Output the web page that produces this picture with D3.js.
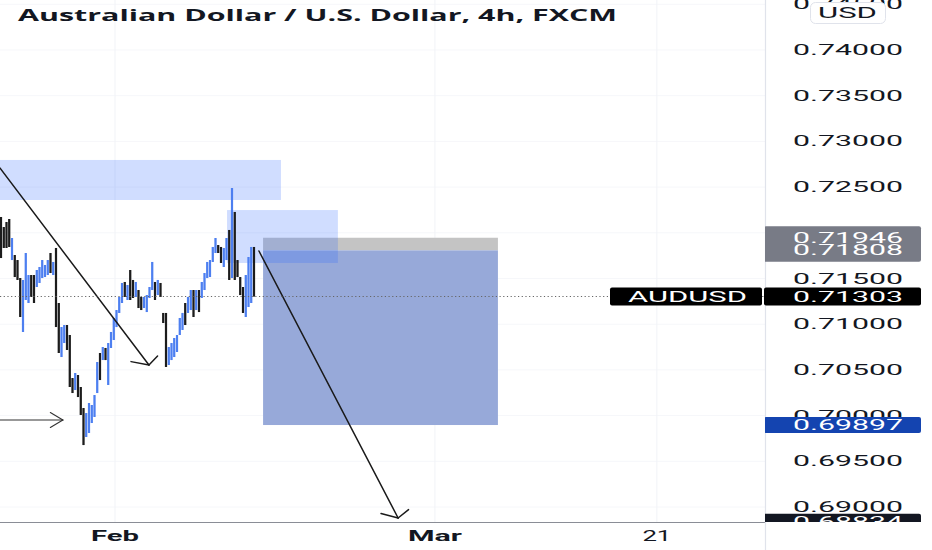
<!DOCTYPE html>
<html><head><meta charset="utf-8">
<script src="https://cdn.jsdelivr.net/npm/d3@7"></script>
<style>html,body{margin:0;padding:0;background:#fff;overflow:hidden}</style>
</head><body>
<svg id="c" width="932" height="550"></svg>
<script>
const title = "Australian Dollar / U.S. Dollar, 4h, FXCM";
// [open, high, low, close]
const candles = [
[0.72173,0.72173,0.71724,0.71724],[0.72063,0.72063,0.71834,0.71834],[0.72118,0.72118,0.71834,0.71834],
[0.72151,0.72151,0.71845,0.71845],[0.71702,0.71943,0.71702,0.71943],[0.71757,0.71757,0.71516,0.71516],
[0.71702,0.71702,0.71484,0.71484],[0.71505,0.71505,0.71079,0.71079],[0.70915,0.71484,0.70915,0.71484],
[0.71265,0.71779,0.71265,0.71779],[0.71232,0.71538,0.71232,0.71538],[0.71538,0.71538,0.71298,0.71298],
[0.71538,0.71538,0.71232,0.71232],[0.71407,0.71593,0.71407,0.71593],[0.71451,0.71626,0.71451,0.71626],
[0.71505,0.71702,0.71505,0.71702],[0.71516,0.71648,0.71516,0.71648],[0.71538,0.71702,0.71538,0.71702],
[0.71779,0.71779,0.71560,0.71560],[0.71538,0.71681,0.71538,0.71681],[0.71834,0.71834,0.70969,0.70969],
[0.71232,0.71232,0.70685,0.70685],[0.70641,0.70969,0.70641,0.70969],[0.70794,0.70991,0.70794,0.70991],
[0.70991,0.70991,0.70718,0.70718],[0.70882,0.70882,0.70313,0.70313],[0.70411,0.70411,0.70247,0.70247],
[0.70280,0.70466,0.70280,0.70466],[0.70444,0.70444,0.70203,0.70203],[0.70313,0.70313,0.70007,0.70007],
[0.70083,0.70083,0.69678,0.69678],[0.69766,0.70028,0.69766,0.70028],[0.69810,0.70138,0.69810,0.70138],
[0.69919,0.70116,0.69919,0.70116],[0.69985,0.70225,0.69985,0.70225],[0.70247,0.70586,0.70247,0.70586],
[0.70685,0.70685,0.70389,0.70389],[0.70608,0.70750,0.70608,0.70750],[0.70740,0.70740,0.70608,0.70608],
[0.70335,0.70794,0.70335,0.70794],[0.70740,0.70915,0.70740,0.70915],[0.70827,0.71068,0.70827,0.71068],
[0.70969,0.71155,0.70969,0.71155],[0.71123,0.71298,0.71123,0.71298],[0.71232,0.71451,0.71232,0.71451],
[0.71462,0.71462,0.71298,0.71298],[0.71265,0.71429,0.71265,0.71429],[0.71593,0.71593,0.71265,0.71265],
[0.71484,0.71484,0.71287,0.71287],[0.71298,0.71462,0.71298,0.71462],[0.71374,0.71374,0.71177,0.71177],
[0.71298,0.71298,0.71155,0.71155],[0.71177,0.71298,0.71177,0.71298],[0.71133,0.71319,0.71133,0.71319],
[0.71287,0.71407,0.71287,0.71407],[0.71374,0.71681,0.71374,0.71681],[0.71462,0.71462,0.71265,0.71265],
[0.71319,0.71484,0.71319,0.71484],[0.71451,0.71451,0.71298,0.71298],[0.71123,0.71123,0.71013,0.71013],
[0.71123,0.71123,0.70532,0.70532],[0.70554,0.70750,0.70554,0.70750],[0.70608,0.70794,0.70608,0.70794],
[0.70641,0.70849,0.70641,0.70849],[0.70696,0.70882,0.70696,0.70882],[0.70882,0.71068,0.70882,0.71068],
[0.70937,0.71123,0.70937,0.71123],[0.71232,0.71232,0.70991,0.70991],[0.71123,0.71298,0.71123,0.71298],
[0.71155,0.71374,0.71155,0.71374],[0.71374,0.71374,0.71079,0.71079],[0.71155,0.71374,0.71155,0.71374],
[0.71374,0.71374,0.71133,0.71133],[0.71287,0.71462,0.71287,0.71462],[0.71374,0.71560,0.71374,0.71560],
[0.71505,0.71681,0.71505,0.71681],[0.71516,0.71702,0.71516,0.71702],[0.71681,0.71845,0.71681,0.71845],
[0.71779,0.71943,0.71779,0.71943],[0.71866,0.71866,0.71779,0.71779],[0.71845,0.71845,0.71670,0.71670],
[0.71626,0.71834,0.71626,0.71834],[0.71702,0.71943,0.71702,0.71943],[0.72031,0.72031,0.71484,0.71484],
[0.71505,0.72490,0.71505,0.72490],[0.72228,0.72228,0.71484,0.71484],[0.71702,0.71702,0.71516,0.71516],
[0.71516,0.71516,0.71319,0.71319],[0.71407,0.71407,0.71123,0.71123],[0.71079,0.71538,0.71079,0.71538],
[0.71188,0.71735,0.71188,0.71735],[0.71232,0.71845,0.71232,0.71845],[0.71845,0.71845,0.71303,0.71303]
];
const priceTicks = [0.745,0.740,0.735,0.730,0.725,0.720,0.715,0.710,0.705,0.700,0.695,0.690];
const timeTicks = [41.45,157.8,238.5];          // bar-index positions
const timeLabels = ["Feb","Mar","21"];
const timeBold = [true,true,false];
const zones = [
  {i0:-0.4, i1:101.8, p0:0.72797, p1:0.72359},
  {i0:82.2, i1:122.5, p0:0.72249, p1:0.71670}
];
const position = {i0:95.3, i1:180.7, entry:0.71808, stop:0.71946, target:0.69897};
const arrows = [
  {i0:-0.4, p0:0.72709, i1:53.8, p1:0.70554},
  {i0:-0.4, p0:0.69952, i1:22.5, p1:0.69952},
  {i0:93.8, p0:0.71801, i1:144.4, p1:0.68880}
];
const symbol = "AUDUSD";
const lastPrice = 0.71303;
const lowMark = 0.68834;
const currency = "USD";

const W = 932, H = 550, plotR = 765, plotB = 522;
const svg = d3.select("#c");
const x = d3.scaleLinear().domain([0, 92]).range([1, 254]);
const y = d3.scaleLinear().domain([0.68836, 0.74547]).range([plotB, 0]);
const fmt = d3.format(".5f");
const FONT = "Roboto, 'Liberation Sans', sans-serif";

svg.append("rect").attr("width", W).attr("height", H).attr("fill", "#fff");
const defs = svg.append("defs");
defs.append("clipPath").attr("id","plotclip").append("rect").attr("x",0).attr("y",0).attr("width",plotR).attr("height",plotB);
defs.append("clipPath").attr("id","axclip").append("rect").attr("x",plotR).attr("y",0).attr("width",W-plotR).attr("height",plotB);

const plot = svg.append("g").attr("clip-path","url(#plotclip)");
// grid
plot.selectAll(".hg").data(priceTicks).join("line")
  .attr("x1",0).attr("x2",plotR).attr("y1",d=>y(d)).attr("y2",d=>y(d))
  .attr("stroke","#f6f7fa").attr("stroke-width",1);
plot.selectAll(".vg").data(timeTicks).join("line")
  .attr("x1",d=>x(d)).attr("x2",d=>x(d)).attr("y1",0).attr("y2",plotB)
  .attr("stroke","#f1f3f7").attr("stroke-width",1);

// position box
plot.append("rect").attr("x",x(position.i0)).attr("width",x(position.i1)-x(position.i0))
  .attr("y",y(position.stop)).attr("height",y(position.entry)-y(position.stop))
  .attr("fill","#c4c4c4");
plot.append("rect").attr("x",x(position.i0)).attr("width",x(position.i1)-x(position.i0))
  .attr("y",y(position.entry)).attr("height",y(position.target)-y(position.entry))
  .attr("fill","#97a9d9");

// zones
plot.selectAll(".zone").data(zones).join("rect")
  .attr("x",d=>x(d.i0)).attr("width",d=>x(d.i1)-x(d.i0))
  .attr("y",d=>y(d.p0)).attr("height",d=>y(d.p1)-y(d.p0))
  .attr("fill","rgba(41,98,255,0.22)");

// candles
const cg = plot.append("g");
candles.forEach((c,i)=>{
  const [o,h,l,cl] = c;
  const col = cl >= o ? "#4d7ff0" : "#1c1c1c";
  cg.append("line").attr("x1",x(i)).attr("x2",x(i)).attr("y1",y(h)).attr("y2",y(l))
    .attr("stroke",col).attr("stroke-width",1.2);
  const top = y(Math.max(o,cl)), bot = y(Math.min(o,cl));
  cg.append("rect").attr("x",x(i)-1.1).attr("width",2.2).attr("y",top).attr("height",Math.max(1,bot-top))
    .attr("fill",col);
});

// arrows
const S = 1.9, L = 10, TH = 0.85;
arrows.forEach((a,k)=>{
  const X0=x(a.i0), Y0=y(a.p0), X1=x(a.i1), Y1=y(a.p1);
  const g = plot.append("g").attr("stroke", k===1 ? "#333" : "#1a1a1a")
    .attr("stroke-width", k===1 ? 1.1 : 1.5).attr("fill","none").attr("stroke-linecap","round");
  g.append("line").attr("x1",X0).attr("y1",Y0).attr("x2",X1).attr("y2",Y1);
  const ang = Math.atan2(Y1-Y0,(X1-X0)/S);
  [ang+Math.PI-TH, ang+Math.PI+TH].forEach(t=>{
    g.append("line").attr("x1",X1).attr("y1",Y1)
      .attr("x2",X1+S*L*Math.cos(t)).attr("y2",Y1+L*Math.sin(t));
  });
});

// last price dotted line
plot.append("line").attr("x1",0).attr("x2",plotR).attr("y1",y(lastPrice)).attr("y2",y(lastPrice))
  .attr("stroke","#666").attr("stroke-width",1).attr("stroke-dasharray","1.2 2.5");

// axes frame
svg.append("line").attr("x1",0).attr("x2",plotR).attr("y1",plotB+0.5).attr("y2",plotB+0.5)
  .attr("stroke","#8a8d96").attr("stroke-width",1.2);
svg.append("line").attr("x1",plotR+0.5).attr("x2",plotR+0.5).attr("y1",0).attr("y2",H)
  .attr("stroke","#e0e3eb").attr("stroke-width",1.2);

// price labels
const ax = svg.append("g").attr("clip-path","url(#axclip)");
function stretchText(g, txt, xL, yc, w, opts={}) {
  return g.append("text").attr("x",xL).attr("y",yc+5)
    .attr("font-family",opts.family||FONT).attr("font-size",opts.size||14)
    .attr("font-weight",opts.weight||400).attr("fill",opts.fill||"#131722")
    .attr("textLength",w).attr("lengthAdjust","spacingAndGlyphs").text(txt);
}
priceTicks.forEach(p=>stretchText(ax, fmt(p), 793, y(p), 110));

// gray box stop/entry
ax.append("rect").attr("x",764).attr("y",y(position.stop)-11.5).attr("width",157)
  .attr("height",y(position.entry)-y(position.stop)+23).attr("rx",2).attr("fill","#787b86");
stretchText(ax, fmt(position.stop), 793, y(position.stop), 110, {fill:"#fff"});
stretchText(ax, fmt(position.entry), 793, y(position.entry), 110, {fill:"#fff"});
// target box
ax.append("rect").attr("x",764).attr("y",y(position.target)-8).attr("width",157).attr("height",16)
  .attr("rx",2).attr("fill","#1444b0");
stretchText(ax, fmt(position.target), 793, y(position.target), 110, {fill:"#fff"});
// low mark box
ax.append("rect").attr("x",764).attr("y",y(lowMark)-8.5).attr("width",157).attr("height",17)
  .attr("rx",2).attr("fill","#131722");
stretchText(ax, fmt(lowMark), 793, y(lowMark), 110, {fill:"#fff"});
// last price
svg.append("rect").attr("x",610).attr("y",y(lastPrice)-9).attr("width",152).attr("height",18)
  .attr("rx",2).attr("fill","#000");
stretchText(svg, symbol, 628, y(lastPrice), 119, {fill:"#fff"});
svg.append("rect").attr("x",764).attr("y",y(lastPrice)-9).attr("width",157).attr("height",18)
  .attr("rx",2).attr("fill","#000");
stretchText(svg, fmt(lastPrice), 793, y(lastPrice), 110, {fill:"#fff"});

// currency button
svg.append("rect").attr("x",810.5).attr("y",2.5).attr("width",75).attr("height",21).attr("rx",5)
  .attr("fill","#fff").attr("stroke","#e0e3eb");
stretchText(svg, currency, 818, 13, 59, {fill:"#131722"});

// time labels
timeTicks.forEach((t,k)=>{
  svg.append("text").attr("x",x(t)).attr("y",541).attr("text-anchor","middle")
    .attr("font-family",FONT).attr("font-size",14).attr("font-weight",timeBold[k]?700:400)
    .attr("fill","#131722")
    .attr("textLength",[48,54,29][k]).attr("lengthAdjust","spacingAndGlyphs").text(timeLabels[k]);
});

// title
svg.append("text").attr("x",18).attr("y",21).attr("font-family","'Open Sans', sans-serif")
  .attr("font-size",16).attr("font-weight",700).attr("fill","#131722")
  .attr("textLength",599).attr("lengthAdjust","spacingAndGlyphs").text(title);
</script>
</body></html>
